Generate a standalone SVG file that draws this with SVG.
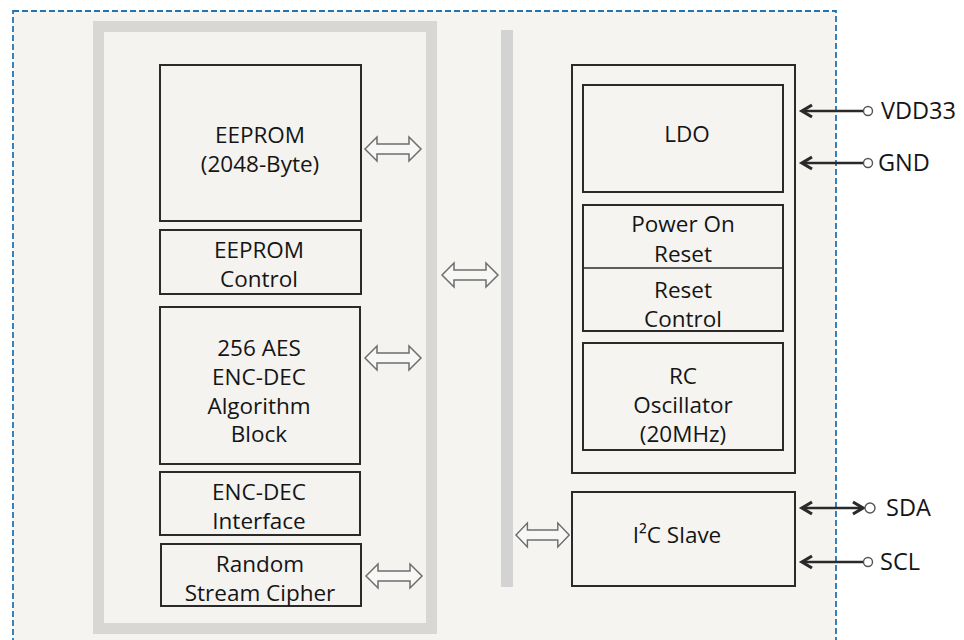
<svg xmlns="http://www.w3.org/2000/svg" width="964" height="640" viewBox="0 0 964 640">
<defs>
<style>
.t{font-family:"Open Sans","Liberation Sans",sans-serif;font-size:22.5px;fill:#151515;text-anchor:middle}
.p{font-family:"Open Sans","Liberation Sans",sans-serif;font-size:23.5px;fill:#151515}
.box{fill:none;stroke:#2a2a2a;stroke-width:2}
.dbl{fill:#f7f7f5;stroke:#6e6e6e;stroke-width:1.5;stroke-linejoin:miter}
.wire{stroke:#2a2a2a;stroke-width:2.4;fill:none}
.pin{fill:#fff;stroke:#555;stroke-width:1.4}
</style>
<path id="dbl" d="M0,0 L12,-12 L12,-5 L44,-5 L44,-12 L56,0 L44,12 L44,5 L12,5 L12,12 Z"/>
<marker id="ah" viewBox="0 0 14 14" refX="12" refY="7" markerWidth="14" markerHeight="14" markerUnits="userSpaceOnUse" orient="auto-start-reverse" overflow="visible">
<path d="M2,1 L12,7 L2,13" fill="none" stroke="#2a2a2a" stroke-width="3.2" stroke-linejoin="miter"/>
</marker>
</defs>
<rect x="0" y="0" width="964" height="640" fill="#ffffff"/>
<rect x="13" y="11" width="823" height="650" fill="#f5f4f1" stroke="#2474b2" stroke-width="1.8" stroke-dasharray="6,3"/>
<g id="left-frame">
<rect x="98.5" y="26.5" width="333" height="602" fill="#f4f3f0" stroke="#d8d7d4" stroke-width="11"/>
</g>
<g id="bus">
<rect x="501" y="30" width="12" height="557" fill="#d4d3d3"/>
</g>
<g id="eeprom">
<rect class="box" x="160" y="65" width="201" height="156"/>
<text class="t" x="260" y="143">EEPROM</text>
<text class="t" x="260" y="172">(2048-Byte)</text>
</g>
<g id="eeprom-control">
<rect class="box" x="160" y="230" width="201" height="64"/>
<text class="t" x="259" y="258">EEPROM</text>
<text class="t" x="259" y="287">Control</text>
</g>
<g id="aes">
<rect class="box" x="160" y="307" width="200" height="157"/>
<text class="t" x="259" y="356">256 AES</text>
<text class="t" x="259" y="385">ENC-DEC</text>
<text class="t" x="259" y="414">Algorithm</text>
<text class="t" x="259" y="442">Block</text>
</g>
<g id="enc-dec-interface">
<rect class="box" x="160" y="472" width="200" height="63"/>
<text class="t" x="259" y="500">ENC-DEC</text>
<text class="t" x="259" y="529">Interface</text>
</g>
<g id="random-stream-cipher">
<rect class="box" x="161" y="544" width="200" height="62"/>
<text class="t" x="260" y="572">Random</text>
<text class="t" x="260" y="601">Stream Cipher</text>
</g>
<g id="analog-block">
<rect class="box" x="572" y="65" width="223" height="408"/>
</g>
<g id="ldo">
<rect class="box" x="583" y="85" width="200" height="107"/>
<text class="t" x="687" y="142">LDO</text>
</g>
<g id="reset">
<rect class="box" x="583" y="205" width="200" height="126"/>
<line x1="583" y1="268" x2="783" y2="268" stroke="#2a2a2a" stroke-width="1.5"/>
<text class="t" x="683" y="232">Power On</text>
<text class="t" x="683" y="262">Reset</text>
<text class="t" x="683" y="298">Reset</text>
<text class="t" x="683" y="327">Control</text>
</g>
<g id="rc-oscillator">
<rect class="box" x="583" y="343" width="200" height="107"/>
<text class="t" x="683" y="384">RC</text>
<text class="t" x="683" y="413">Oscillator</text>
<text class="t" x="683" y="442">(20MHz)</text>
</g>
<g id="i2c-slave">
<rect class="box" x="572" y="492" width="223" height="94"/>
<text class="t" x="677" y="543">I²C Slave</text>
</g>
<g id="connectors">
<use href="#dbl" class="dbl" transform="translate(365,149)"/>
<use href="#dbl" class="dbl" transform="translate(442,275)"/>
<use href="#dbl" class="dbl" transform="translate(365,358)"/>
<use href="#dbl" class="dbl" transform="translate(366,576)"/>
<use href="#dbl" class="dbl" transform="translate(516,535) scale(0.95,1)"/>
<line class="wire" x1="863" y1="111" x2="802" y2="111" marker-end="url(#ah)"/>
<line class="wire" x1="863" y1="163" x2="802" y2="163" marker-end="url(#ah)"/>
<line class="wire" x1="863" y1="508" x2="802" y2="508" marker-start="url(#ah)" marker-end="url(#ah)"/>
<line class="wire" x1="863" y1="562" x2="802" y2="562" marker-end="url(#ah)"/>
</g>
<g id="pin-vdd33">
<circle class="pin" cx="868" cy="111" r="4.5"/>
<text class="p" x="881" y="119">VDD33</text>
</g>
<g id="pin-gnd">
<circle class="pin" cx="868" cy="163" r="4.5"/>
<text class="p" x="878" y="171">GND</text>
</g>
<g id="pin-sda">
<circle class="pin" cx="870" cy="508" r="5"/>
<text class="p" x="886" y="516">SDA</text>
</g>
<g id="pin-scl">
<circle class="pin" cx="868" cy="562" r="4.5"/>
<text class="p" x="880" y="570">SCL</text>
</g>
</svg>
